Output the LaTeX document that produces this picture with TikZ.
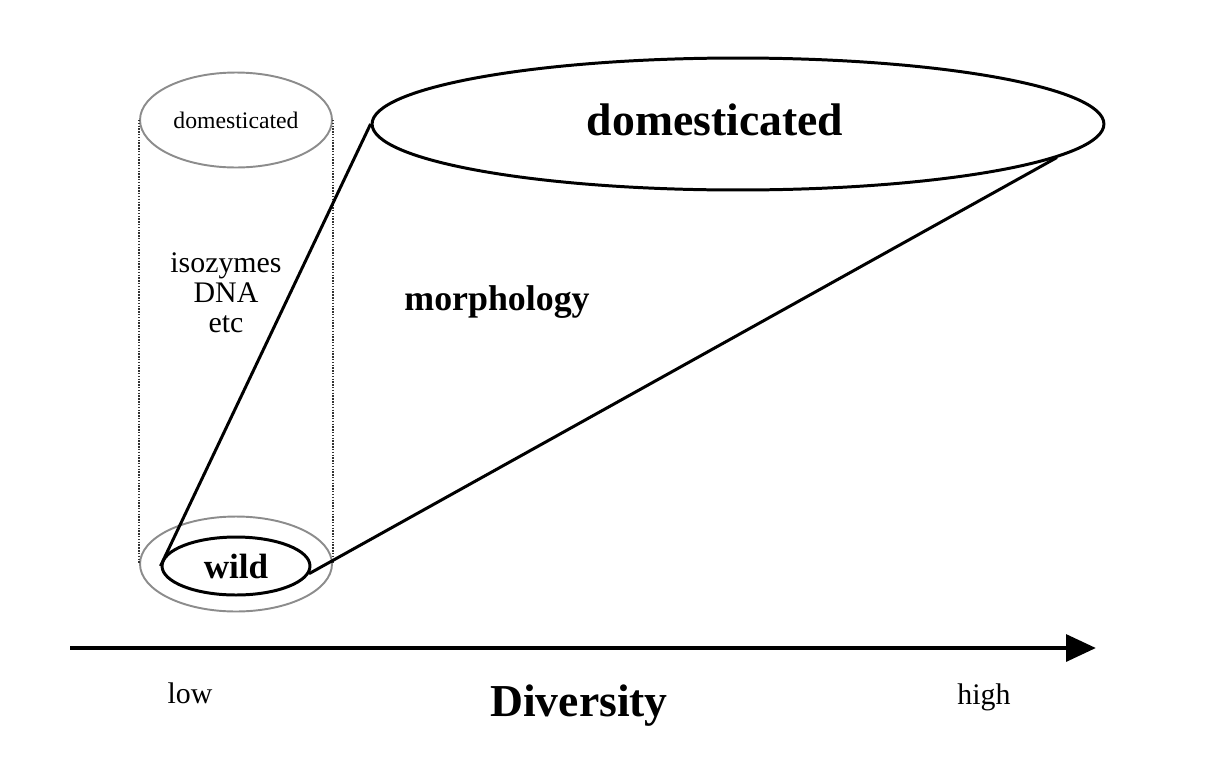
\documentclass[tikz,border=0pt]{standalone}
\usepackage{fontspec}
\setmainfont{Liberation Serif}
\usetikzlibrary{shapes.geometric,arrows.meta}

\begin{document}
\begin{tikzpicture}[x=0.02cm,y=-0.02cm,
    ring/.style={ellipse,draw=black!45,line width=1.1pt,inner sep=0pt,minimum width=3.84cm,minimum height=1.9cm},
    blob/.style={ellipse,draw,line width=1.7pt,inner sep=0pt},
    guide/.style={black!80,line width=1.2pt,dash pattern=on 0.8pt off 0.8pt},
    cone/.style={line width=1.7pt},
    plain/.style={font=\fontsize{17}{17.1}\selectfont},
    heavy/.style={font=\bfseries\fontsize{#1}{#1}\selectfont}]
        \useasboundingbox (0,0) rectangle (1212,771);
        \node[ring,font=\fontsize{13.5}{16}\selectfont] (domtop) at (236,120) {domesticated};
        \node[ring] (wildbot) at (236,564) {};
        \draw[guide] (domtop.west) -- (wildbot.west);
        \draw[guide] (domtop.east) -- (wildbot.east);
        \node[blob,minimum width=2.96cm,minimum height=1.16cm,heavy=20] (wild) at (236,566) {wild};
        \node[blob,minimum width=14.64cm,minimum height=2.64cm] (dom) at (738,124) {};
        \node[heavy=26] (domlbl) at (715,120) {domesticated};
        \draw[cone] (wild.west) -- (dom.west);
        \draw[cone] (wild.-6) -- (dom.-6);
        \node[plain,align=center] (markers) at (226,293) {isozymes\\DNA\\etc};
        \node[heavy=20.4] (morph) at (497,302) {morphology};
        \coordinate (lo) at (70,648);
        \coordinate (hi) at (1096,648);
        \draw[line width=2.8pt,-{Triangle[length=17pt,width=15pt]}] (lo) -- (hi);
        \node[plain] (low) at (190,693) {low};
        \node[plain] (high) at (984,697) {high};
        \node[heavy=26] (div) at (579,706) {Diversity};
    \end{tikzpicture}
\end{document}
